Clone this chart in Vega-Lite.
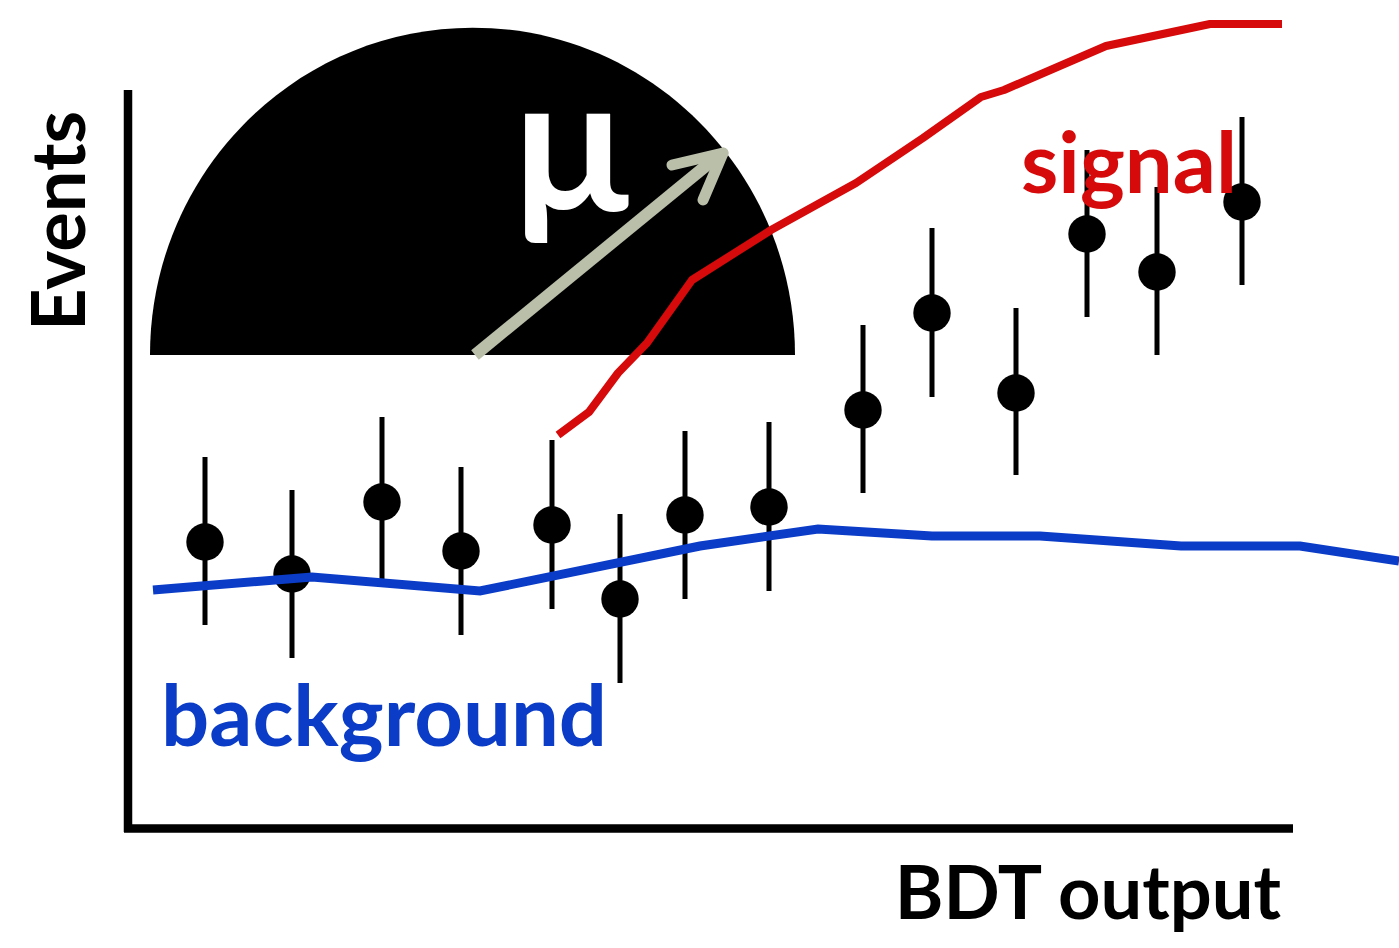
{
  "$schema": "https://vega.github.io/schema/vega-lite/v6.json",
  "width": 1399,
  "height": 948,
  "padding": 0,
  "autosize": {"type": "none"},
  "background": "white",
  "config": {"view": {"stroke": null}},
  "datasets": {
    "pts": [
      {"x": 205, "y": 406, "lo": 323, "hi": 491},
      {"x": 292, "y": 374, "lo": 290, "hi": 458},
      {"x": 382, "y": 446, "lo": 368, "hi": 531},
      {"x": 461, "y": 397, "lo": 313, "hi": 481},
      {"x": 552, "y": 423, "lo": 339, "hi": 508},
      {"x": 620, "y": 349, "lo": 265, "hi": 434},
      {"x": 685, "y": 433, "lo": 349, "hi": 517},
      {"x": 769, "y": 441, "lo": 357, "hi": 526},
      {"x": 863, "y": 538, "lo": 455, "hi": 623},
      {"x": 932, "y": 635, "lo": 551, "hi": 720},
      {"x": 1016, "y": 555, "lo": 473, "hi": 640},
      {"x": 1087, "y": 714, "lo": 631, "hi": 798},
      {"x": 1157, "y": 676, "lo": 593, "hi": 761},
      {"x": 1242, "y": 746, "lo": 663, "hi": 831}
    ],
    "bkg": [
      {"x": 153, "y": 358},
      {"x": 312, "y": 371},
      {"x": 480, "y": 357},
      {"x": 700, "y": 402},
      {"x": 818, "y": 419},
      {"x": 932, "y": 412},
      {"x": 1040, "y": 412},
      {"x": 1181, "y": 402},
      {"x": 1300, "y": 402},
      {"x": 1399, "y": 387}
    ],
    "sig": [
      {"x": 558, "y": 513},
      {"x": 589, "y": 536},
      {"x": 618, "y": 575},
      {"x": 647, "y": 605},
      {"x": 692, "y": 668},
      {"x": 771, "y": 718},
      {"x": 856, "y": 765},
      {"x": 923, "y": 810},
      {"x": 981, "y": 851},
      {"x": 1004, "y": 858},
      {"x": 1106, "y": 902},
      {"x": 1210, "y": 924},
      {"x": 1282, "y": 924}
    ]
  },
  "layer": [
    {
      "data": {"values": [{"x": 472.5, "y": 593}]},
      "mark": {"type": "point", "shape": "M-1,0A1,1.015,0,0,1,1,0Z", "filled": true, "fill": "black", "stroke": null, "opacity": 1, "size": 416025},
      "encoding": {
        "x": {"field": "x", "type": "quantitative", "scale": {"domain": [0, 1399], "nice": false, "zero": false}, "axis": null},
        "y": {"field": "y", "type": "quantitative", "scale": {"domain": [0, 948], "nice": false, "zero": false}, "axis": null}
      }
    },
    {
      "data": {"values": [{"x": 475, "y": 593, "x2": 718, "y2": 792}]},
      "mark": {"type": "rule", "color": "#babfaa", "strokeWidth": 12, "strokeCap": "butt"},
      "encoding": {
        "x": {"field": "x", "type": "quantitative", "scale": {"domain": [0, 1399], "nice": false, "zero": false}, "axis": null},
        "y": {"field": "y", "type": "quantitative", "scale": {"domain": [0, 948], "nice": false, "zero": false}, "axis": null},
        "x2": {"field": "x2"},
        "y2": {"field": "y2"}
      }
    },
    {
      "data": {"values": [{"x": 723, "y": 795, "x2": 672, "y2": 783}, {"x": 723, "y": 795, "x2": 703, "y2": 748}]},
      "mark": {"type": "rule", "color": "#babfaa", "strokeWidth": 11, "strokeCap": "round"},
      "encoding": {
        "x": {"field": "x", "type": "quantitative", "scale": {"domain": [0, 1399], "nice": false, "zero": false}, "axis": null},
        "y": {"field": "y", "type": "quantitative", "scale": {"domain": [0, 948], "nice": false, "zero": false}, "axis": null},
        "x2": {"field": "x2"},
        "y2": {"field": "y2"}
      }
    },
    {
      "data": {"values": [{"x": 571, "y": 737, "label": "μ"}]},
      "mark": {"type": "text", "font": "Lato", "fontWeight": "bold", "fontSize": 190, "color": "white", "align": "center", "baseline": "alphabetic"},
      "encoding": {
        "x": {"field": "x", "type": "quantitative", "scale": {"domain": [0, 1399], "nice": false, "zero": false}, "axis": null},
        "y": {"field": "y", "type": "quantitative", "scale": {"domain": [0, 948], "nice": false, "zero": false}, "axis": null},
        "text": {"field": "label"}
      }
    },
    {
      "data": {"name": "pts"},
      "mark": {"type": "rule", "color": "black", "strokeWidth": 5},
      "encoding": {
        "x": {"field": "x", "type": "quantitative", "scale": {"domain": [0, 1399], "nice": false, "zero": false}, "axis": null},
        "y": {"field": "lo", "type": "quantitative", "scale": {"domain": [0, 948], "nice": false, "zero": false}, "axis": null},
        "y2": {"field": "hi"}
      }
    },
    {
      "data": {"name": "pts"},
      "mark": {"type": "circle", "color": "black", "opacity": 1, "size": 1400},
      "encoding": {
        "x": {"field": "x", "type": "quantitative", "scale": {"domain": [0, 1399], "nice": false, "zero": false}, "axis": null},
        "y": {"field": "y", "type": "quantitative", "scale": {"domain": [0, 948], "nice": false, "zero": false}, "axis": null}
      }
    },
    {
      "data": {"name": "bkg"},
      "mark": {"type": "line", "color": "#0a3cc8", "strokeWidth": 9, "strokeJoin": "miter"},
      "encoding": {
        "x": {"field": "x", "type": "quantitative", "scale": {"domain": [0, 1399], "nice": false, "zero": false}, "axis": null},
        "y": {"field": "y", "type": "quantitative", "scale": {"domain": [0, 948], "nice": false, "zero": false}, "axis": null}
      }
    },
    {
      "data": {"name": "sig"},
      "mark": {"type": "line", "color": "#d60a0a", "strokeWidth": 8, "strokeJoin": "round"},
      "encoding": {
        "x": {"field": "x", "type": "quantitative", "scale": {"domain": [0, 1399], "nice": false, "zero": false}, "axis": null},
        "y": {"field": "y", "type": "quantitative", "scale": {"domain": [0, 948], "nice": false, "zero": false}, "axis": null}
      }
    },
    {
      "data": {"values": [{"x": 1021, "y": 755, "label": "signal"}]},
      "mark": {"type": "text", "font": "Lato", "fontWeight": "bold", "fontSize": 85, "color": "#d60a0a", "align": "left", "baseline": "alphabetic"},
      "encoding": {
        "x": {"field": "x", "type": "quantitative", "scale": {"domain": [0, 1399], "nice": false, "zero": false}, "axis": null},
        "y": {"field": "y", "type": "quantitative", "scale": {"domain": [0, 948], "nice": false, "zero": false}, "axis": null},
        "text": {"field": "label"}
      }
    },
    {
      "data": {"values": [{"x": 161, "y": 202, "label": "background"}]},
      "mark": {"type": "text", "font": "Lato", "fontWeight": "bold", "fontSize": 85, "color": "#0a3cc8", "align": "left", "baseline": "alphabetic"},
      "encoding": {
        "x": {"field": "x", "type": "quantitative", "scale": {"domain": [0, 1399], "nice": false, "zero": false}, "axis": null},
        "y": {"field": "y", "type": "quantitative", "scale": {"domain": [0, 948], "nice": false, "zero": false}, "axis": null},
        "text": {"field": "label"}
      }
    },
    {
      "data": {"values": [{"x": 128, "y": 858, "x2": 128, "y2": 116}, {"x": 124, "y": 119.5, "x2": 1293, "y2": 119.5}]},
      "mark": {"type": "rule", "color": "black", "strokeWidth": 8.5, "strokeCap": "butt"},
      "encoding": {
        "x": {"field": "x", "type": "quantitative", "scale": {"domain": [0, 1399], "nice": false, "zero": false}, "axis": null},
        "y": {"field": "y", "type": "quantitative", "scale": {"domain": [0, 948], "nice": false, "zero": false}, "axis": null},
        "x2": {"field": "x2"},
        "y2": {"field": "y2"}
      }
    },
    {
      "data": {"values": [{"x": 1281, "y": 29, "label": "BDT output"}]},
      "mark": {"type": "text", "font": "Lato", "fontWeight": "bold", "fontSize": 74, "color": "black", "align": "right", "baseline": "alphabetic"},
      "encoding": {
        "x": {"field": "x", "type": "quantitative", "scale": {"domain": [0, 1399], "nice": false, "zero": false}, "axis": null},
        "y": {"field": "y", "type": "quantitative", "scale": {"domain": [0, 948], "nice": false, "zero": false}, "axis": null},
        "text": {"field": "label"}
      }
    },
    {
      "data": {"values": [{"x": 85, "y": 727, "label": "Events"}]},
      "mark": {"type": "text", "font": "Lato", "fontWeight": "bold", "fontSize": 74, "color": "black", "align": "center", "baseline": "alphabetic", "angle": 270},
      "encoding": {
        "x": {"field": "x", "type": "quantitative", "scale": {"domain": [0, 1399], "nice": false, "zero": false}, "axis": null},
        "y": {"field": "y", "type": "quantitative", "scale": {"domain": [0, 948], "nice": false, "zero": false}, "axis": null},
        "text": {"field": "label"}
      }
    }
  ]
}
